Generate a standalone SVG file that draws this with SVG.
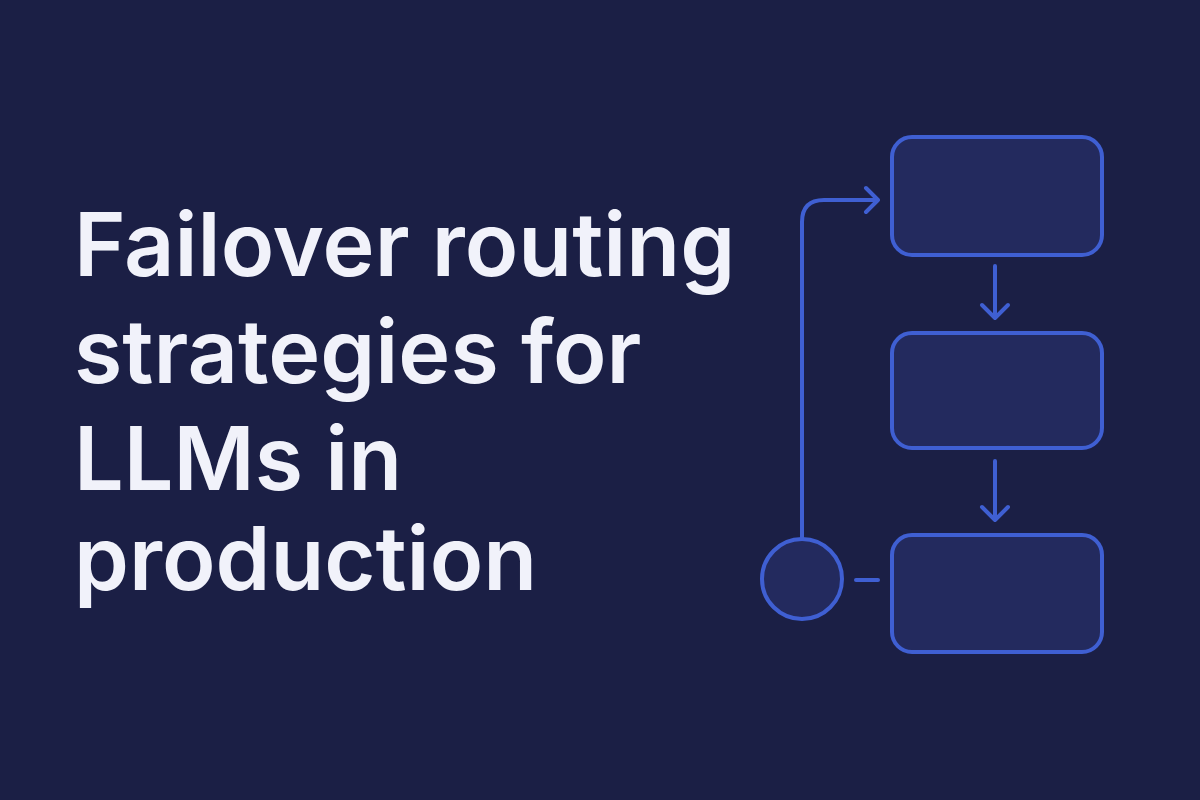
<svg xmlns="http://www.w3.org/2000/svg" width="1200" height="800" viewBox="0 0 1200 800">
<style>
.t{font-family:Inter,"Noto Sans",sans-serif;font-weight:600;font-size:88px;fill:#f1f2fa}
.n{fill:#232a5e;stroke:#3f5fd2;stroke-width:4}
.c{fill:none;stroke:#3f5fd2;stroke-width:4;stroke-linecap:round;stroke-linejoin:round}
</style>
<rect width="1200" height="800" fill="#1b1f45"/>
<g id="title">
<text class="t" x="74" y="276">Failover routing</text>
<text class="t" x="74" y="383">strategies for</text>
<text class="t" x="74" y="490">LLMs in</text>
<text class="t" x="74" y="590">production</text>
</g>
<g id="box1"><rect class="n" x="892" y="137" width="210" height="118" rx="20"/></g>
<g id="box2"><rect class="n" x="892" y="333" width="210" height="115" rx="20"/></g>
<g id="box3"><rect class="n" x="892" y="535" width="210" height="117" rx="20"/></g>
<g id="circle"><circle class="n" cx="802" cy="579" r="40"/></g>
<g id="connectors">
<path class="c" d="M995 266V318M982 305L995 318L1008 305"/>
<path class="c" d="M995 461V520M982 507L995 520L1008 507"/>
<path class="c" d="M802 539V222Q802 200 824 200H878M866 188L878 200L866 212"/>
<path class="c" d="M856 580H878"/>
</g>
</svg>
